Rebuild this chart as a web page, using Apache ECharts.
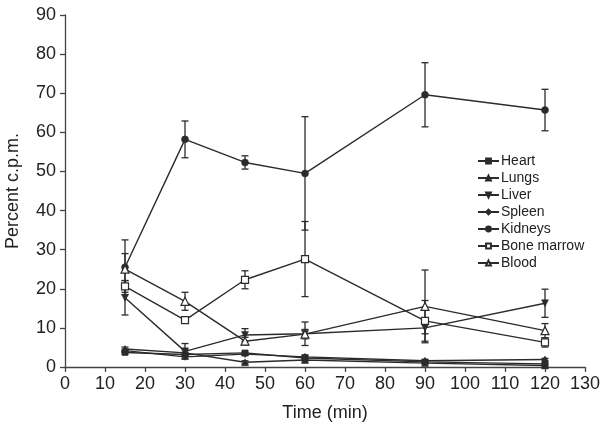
<!DOCTYPE html>
<html>
<head>
<meta charset="utf-8">
<script src="https://cdn.jsdelivr.net/npm/echarts@6/dist/echarts.min.js"></script>
<style>
html,body{margin:0;padding:0;background:#fff;}
#chart{width:600px;height:435px;}
</style>
</head>
<body>
<div id="chart"></div>
<script>
// Time points (min)
const times = [15, 30, 45, 60, 90, 120];

// Mean percent c.p.m. per organ
const heart      = [3.7, 3.2, 3.6, 2.3, 1.3, 0.8];
const lungs      = [4.6, 3.6, 1.2, 1.8, 1.0, 0.4];
const liver      = [17.7, 4.0, 8.2, 8.5, 10.0, 16.3];
const spleen     = [4.2, 2.6, 3.3, 2.6, 1.6, 1.9];
const kidneys    = [25.5, 58.2, 52.3, 49.5, 69.6, 65.7];
const boneMarrow = [20.6, 12.0, 22.3, 27.6, 11.8, 6.3];
const blood      = [25.0, 16.8, 6.6, 8.4, 15.5, 9.3];

// Symmetric error (±) per organ
const heartErr      = [0.4, 0.5, 0.5, 0.5, 0.3, 0.3];
const lungsErr      = [0.5, 0.8, 0.4, 0.5, 0.3, 0.3];
const liverErr      = [4.4, 2.0, 1.6, 3.0, 1.5, 3.6];
const spleenErr     = [0.4, 0.5, 0.4, 0.5, 0.3, 0.3];
const kidneysErr    = [7.0, 4.7, 1.7, 14.5, 8.2, 5.3];
const boneMarrowErr = [1.5, 0.8, 2.3, 9.6, 5.2, 1.2];
const bloodErr      = [4.0, 2.3, 1.0, 1.2, 9.3, 1.8];

const names = ['Heart', 'Lungs', 'Liver', 'Spleen', 'Kidneys', 'Bone marrow', 'Blood'];
const means = [heart, lungs, liver, spleen, kidneys, boneMarrow, blood];
const errs  = [heartErr, lungsErr, liverErr, spleenErr, kidneysErr, boneMarrowErr, bloodErr];

const INK = '#2b2b2b';
const FONT = '"Liberation Sans", Arial, Helvetica, sans-serif';
const symbols = [
  {symbol: 'rect', size: 6, fill: INK},
  {symbol: 'triangle', size: 7, fill: INK},
  {symbol: 'path://M0,0 L10,0 L5,9 Z', size: [7, 7], fill: INK},
  {symbol: 'diamond', size: [5, 7], fill: INK},
  {symbol: 'circle', size: 7, fill: INK},
  {symbol: 'rect', size: 7, fill: '#fff'},
  {symbol: 'triangle', size: 8, fill: '#fff'}
];

const series = [];
// error bars
names.forEach((n, i) => {
  series.push({
    type: 'custom',
    name: n + ' err',
    z: 1,
    silent: true,
    data: times.map((t, k) => [t, means[i][k] - errs[i][k], means[i][k] + errs[i][k]]),
    renderItem: function (params, api) {
      const x = api.value(0);
      const lo = api.coord([x, api.value(1)]);
      const hi = api.coord([x, api.value(2)]);
      const w = 3.5;
      const st = {stroke: INK, lineWidth: 1.3};
      return {
        type: 'group',
        children: [
          {type: 'line', shape: {x1: lo[0], y1: lo[1], x2: hi[0], y2: hi[1]}, style: st},
          {type: 'line', shape: {x1: lo[0] - w, y1: lo[1], x2: lo[0] + w, y2: lo[1]}, style: st},
          {type: 'line', shape: {x1: hi[0] - w, y1: hi[1], x2: hi[0] + w, y2: hi[1]}, style: st}
        ]
      };
    }
  });
});
// lines
names.forEach((n, i) => {
  const s = symbols[i];
  series.push({
    type: 'line',
    name: n,
    z: 3,
    data: times.map((t, k) => [t, means[i][k]]),
    symbol: s.symbol,
    symbolSize: s.size,
    showAllSymbol: true,
    lineStyle: {color: INK, width: 1.4},
    itemStyle: {color: s.fill, borderColor: INK, borderWidth: s.fill === '#fff' ? 1.2 : 0.5},
    emphasis: {disabled: true},
    animation: false
  });
});

const chart = echarts.init(document.getElementById('chart'), null, {renderer: 'canvas'});
chart.setOption({
  animation: false,
  backgroundColor: '#fff',
  textStyle: {fontFamily: FONT},
  grid: {left: 65, right: 15, top: 15, bottom: 68, containLabel: false, outerBoundsMode: 'none'},
  legend: {
    orient: 'vertical',
    left: 472,
    top: 149,
    data: names,
    itemWidth: 21,
    itemHeight: 6,
    itemGap: 3,
    textStyle: {fontFamily: FONT, fontSize: 14, color: '#222', padding: [0, 0, 0, -3]},
    inactiveColor: '#ccc'
  },
  xAxis: {
    type: 'value',
    min: 0, max: 130, interval: 10,
    name: 'Time (min)',
    nameLocation: 'middle',
    nameGap: 37,
    nameTextStyle: {fontFamily: FONT, fontSize: 18, color: '#222'},
    axisLine: {onZero: false, lineStyle: {color: '#444', width: 1.3}},
    axisTick: {show: true, inside: false, length: 5, lineStyle: {color: '#444', width: 1.3}},
    axisLabel: {fontFamily: FONT, fontSize: 18, color: '#222', margin: 8},
    splitLine: {show: false}
  },
  yAxis: {
    type: 'value',
    min: 0, max: 90, interval: 10,
    name: 'Percent c.p.m.',
    nameLocation: 'middle',
    nameGap: 43,
    nameTextStyle: {fontFamily: FONT, fontSize: 18, color: '#222'},
    axisLine: {show: true, lineStyle: {color: '#444', width: 1.3}},
    axisTick: {show: true, inside: false, length: 5, lineStyle: {color: '#444', width: 1.3}},
    axisLabel: {fontFamily: FONT, fontSize: 18, color: '#222', margin: 9},
    splitLine: {show: false}
  },
  series: series
});
</script>
</body>
</html>
